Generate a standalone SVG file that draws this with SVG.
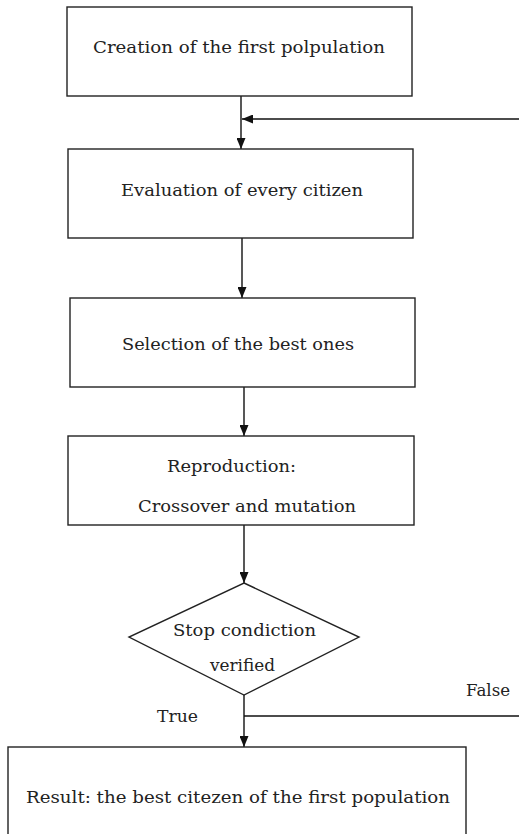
<svg xmlns="http://www.w3.org/2000/svg" width="519" height="834" viewBox="0 0 519 834">
<style>
.box{fill:#fff;stroke:#222;stroke-width:1.4}
.ln{fill:none;stroke:#111;stroke-width:1.4}
.t{font-family:"DejaVu Serif",serif;font-size:16px;fill:#222;text-anchor:middle}
</style>
<defs>
<marker id="ah" viewBox="0 0 11 9" refX="11" refY="4.5" markerWidth="11" markerHeight="9" markerUnits="userSpaceOnUse" orient="auto">
<path d="M0,0 L11,4.5 L0,9 Z" fill="#111"/>
</marker>
</defs>
<rect width="519" height="834" fill="#fff"/>
<g id="connectors">
<line class="ln" x1="241" y1="96" x2="241" y2="149" marker-end="url(#ah)"/>
<line class="ln" x1="519" y1="119" x2="242" y2="119" marker-end="url(#ah)"/>
<line class="ln" x1="242" y1="238" x2="242" y2="298" marker-end="url(#ah)"/>
<line class="ln" x1="244" y1="387" x2="244" y2="436" marker-end="url(#ah)"/>
<line class="ln" x1="244" y1="525" x2="244" y2="583" marker-end="url(#ah)"/>
<line class="ln" x1="244" y1="695" x2="244" y2="747" marker-end="url(#ah)"/>
<line class="ln" x1="244" y1="716" x2="519" y2="716"/>
<text class="t" x="488" y="696" textLength="44" lengthAdjust="spacingAndGlyphs">False</text>
<text class="t" x="177.5" y="722" textLength="41" lengthAdjust="spacingAndGlyphs">True</text>
</g>
<g id="n1">
<rect class="box" x="67" y="7" width="345" height="89"/>
<text class="t" x="239" y="53" textLength="292" lengthAdjust="spacingAndGlyphs">Creation of the first polpulation</text>
</g>
<g id="n2">
<rect class="box" x="68" y="149" width="345" height="89"/>
<text class="t" x="242" y="196" textLength="242" lengthAdjust="spacingAndGlyphs">Evaluation of every citizen</text>
</g>
<g id="n3">
<rect class="box" x="70" y="298" width="345" height="89"/>
<text class="t" x="238" y="350" textLength="232" lengthAdjust="spacingAndGlyphs">Selection of the best ones</text>
</g>
<g id="n4">
<rect class="box" x="68" y="436" width="346" height="89"/>
<text class="t" x="231.5" y="472" textLength="129" lengthAdjust="spacingAndGlyphs">Reproduction:</text>
<text class="t" x="247" y="512" textLength="218" lengthAdjust="spacingAndGlyphs">Crossover and mutation</text>
</g>
<g id="n5">
<polygon class="box" points="244,583 359,637 244,695 129,637"/>
<text class="t" x="244.5" y="636" textLength="143" lengthAdjust="spacingAndGlyphs">Stop condiction</text>
<text class="t" x="242.5" y="671" textLength="65" lengthAdjust="spacingAndGlyphs">verified</text>
</g>
<g id="n6">
<rect class="box" x="8" y="747" width="458" height="100"/>
<text class="t" x="238" y="803" textLength="424" lengthAdjust="spacingAndGlyphs">Result: the best citezen of the first population</text>
</g>
</svg>
